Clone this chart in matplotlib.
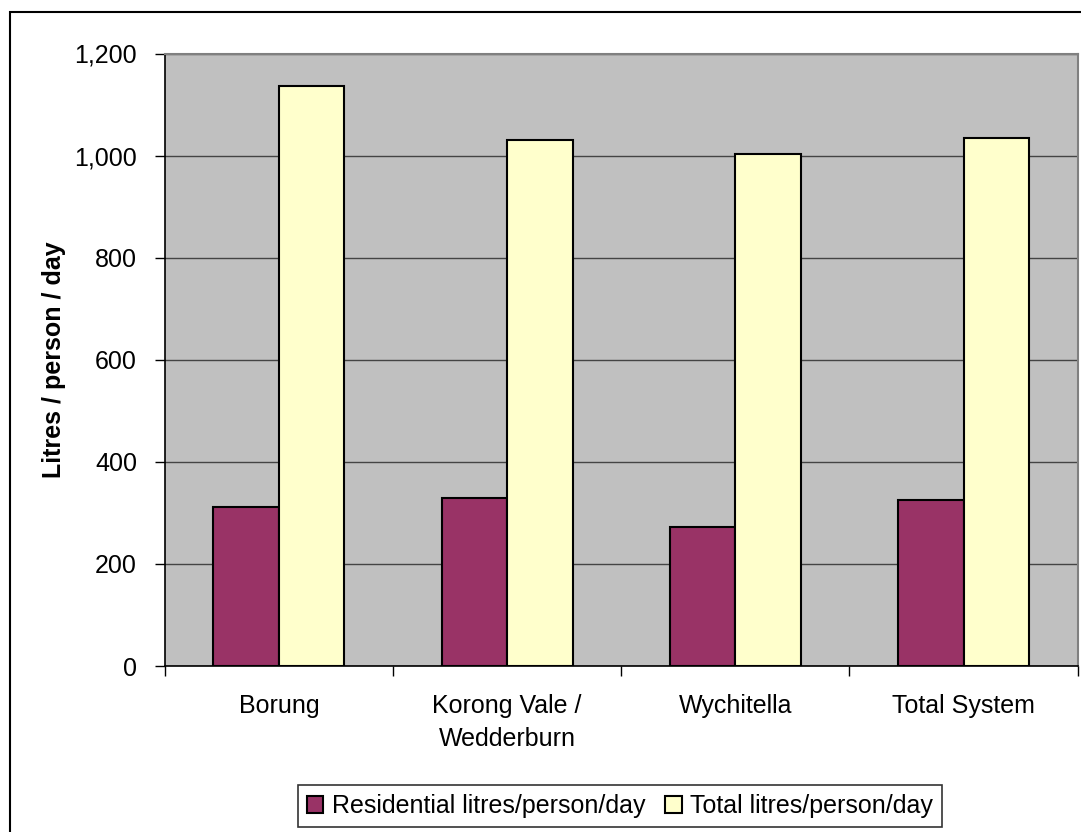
import matplotlib
matplotlib.use("Agg")
import matplotlib.pyplot as plt
from matplotlib.patches import Rectangle
from matplotlib.ticker import FuncFormatter
import numpy as np

plt.rcParams['font.family'] = ['Liberation Sans', 'DejaVu Sans']

categories = ["Borung", "Korong Vale /\nWedderburn", "Wychitella", "Total System"]
residential = [311, 330, 272, 326]
total = [1136, 1030, 1003, 1035]
series_names = ["Residential litres/person/day", "Total litres/person/day"]
yticks = [0, 200, 400, 600, 800, 1000, 1200]

W, H = 1081, 832
fig = plt.figure(figsize=(W / 100, H / 100), dpi=100)
ax = fig.add_axes([164.7 / W, 1 - 666 / H, (1077.7 - 164.7) / W, (666 - 53.5) / H])
ax.set_facecolor('#C0C0C0')

x = np.arange(len(categories))
bw = 0.287
ax.bar(x - bw / 2, residential, bw, color='#993366', edgecolor='black', linewidth=1.5,
       label=series_names[0], zorder=3)
ax.bar(x + bw / 2, total, bw, color='#FFFFCC', edgecolor='black', linewidth=1.5,
       label=series_names[1], zorder=3)

ax.set_xlim(-0.5, len(categories) - 0.5)
ax.set_ylim(0, 1200)
ax.set_yticks(yticks)
ax.yaxis.set_major_formatter(FuncFormatter(lambda v, p: f"{int(v):,}"))
ax.yaxis.grid(True, color='#444444', linewidth=1.0, zorder=1)
ax.set_axisbelow(True)

ax.set_xticks(x)
ax.set_xticklabels(categories, fontsize=18, linespacing=1.5)
ax.set_xticks(np.arange(-0.5, len(categories) + 0.5, 1), minor=True)
ax.tick_params(axis='x', which='major', length=0, pad=20)
ax.tick_params(axis='x', which='minor', length=7, width=1, direction='out', color='black')
ax.tick_params(axis='y', length=7, width=1, direction='out', pad=13, labelsize=18)

ax.set_ylabel("Litres / person / day", fontsize=18, fontweight='bold', labelpad=6)

for s in ['left', 'bottom']:
    ax.spines[s].set_color('black')
    ax.spines[s].set_linewidth(1.2)
for s in ['top', 'right']:
    ax.spines[s].set_color('#808080')
    ax.spines[s].set_linewidth(1.5)

leg = fig.legend(loc='center', bbox_to_anchor=(620 / W, 1 - 806 / H), ncol=2,
                 fontsize=18, frameon=True, fancybox=False, edgecolor='black',
                 handlelength=0.65, handleheight=0.65, handletextpad=0.35,
                 columnspacing=0.8, borderpad=0.35, borderaxespad=0)
leg.get_frame().set_linewidth(1.2)

fig.patches.append(Rectangle((10 / W, -0.01), 1.0, 1 - 12 / H + 0.01, transform=fig.transFigure,
                             fill=False, edgecolor='black', linewidth=1.5))

fig.savefig("out.png", dpi=100)
